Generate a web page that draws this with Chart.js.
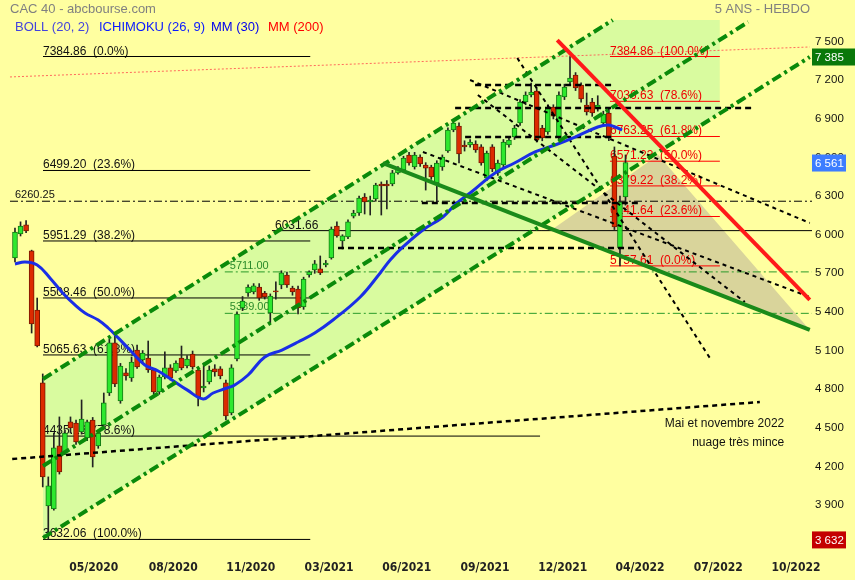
<!DOCTYPE html>
<html>
<head>
<meta charset="utf-8">
<script src="https://cdn.jsdelivr.net/npm/chart.js@4/dist/chart.umd.min.js"></script>
<style>
  html, body { margin: 0; padding: 0; background: #ffffa0; }
  #wrap { width: 855px; height: 580px; }
</style>
</head>
<body>
<div id="wrap"><canvas id="cac" width="855" height="580"></canvas></div>
<script>
// bougies hebdo (index de semaine 0 = debut fevrier 2020)
const opens  = [5819,6006,6076,5874,5415,4848,3892,3869,4359,4312,4545,4537,4467,4420,4560,4358,4522,4770,5159,4708,
                4926,4887,5104,5027,5042,4949,4778,4894,4965,4941,5042,4980,5073,4949,4809,4856,4957,4957,4848,4615,
                5034,5431,5547,5555,5594,5547,5392,5563,5609,5687,5586,5578,5438,5688,5726,5734,5765,5819,6068,5951,
                5982,6145,6169,6293,6254,6278,6394,6394,6394,6480,6503,6619,6526,6604,6542,6526,6402,6526,6651,6814,
                6845,6697,6697,6705,6682,6441,6682,6480,6542,6697,6759,6868,7031,7086,7117,6829,6798,6992,6759,7070,
                7187,7241,7163,7008,7031,6985,6868,6946,6612,5897,6293];
const highs  = [6052,6100,6110,5880,5508,4918,4118,4459,4584,4480,4584,4560,4716,4560,4580,4480,4770,5190,5236,5000,
                4960,5050,5143,5100,5174,4960,4910,5089,4990,5020,5135,5060,5096,4965,5003,4980,4990,4975,4870,4990,
                5400,5520,5610,5620,5620,5560,5540,5633,5720,5710,5600,5600,5670,5720,5800,5835,5800,6060,6100,6000,
                6115,6190,6300,6320,6300,6400,6410,6420,6500,6530,6610,6640,6640,6620,6560,6540,6575,6620,6830,6890,
                6870,6730,6740,6730,6700,6650,6700,6580,6740,6760,6850,7050,7110,7179,7140,6850,7010,7010,7110,7170,
                7384.86,7260,7180,7101,7060,7080,6960,6980,6682,6300,6620];
const lows   = [5788,5990,6015,5236,5128,4040,3632.06,3860,4140,4290,4459,4370,4450,4400,4195,4340,4510,4750,4820,4690,
                4870,4860,4960,5000,4930,4760,4760,4880,4870,4930,4950,4965,4955,4669,4778,4840,4900,4880,4560,4600,
                5020,5410,5520,5540,5490,5500,5314,5500,5580,5590,5530,5384,5420,5670,5700,5690,5750,5810,5980,5889,
                5970,6130,6150,6161,6153,6260,6153,6200,6380,6470,6490,6540,6510,6530,6347,6430,6257,6500,6640,6800,
                6557,6650,6680,6640,6540,6420,6490,6460,6520,6680,6740,6850,7010,7070,6720,6730,6780,6900,6740,7050,
                7160,7120,7030,6930,6920,6960,6850,6730,6040,5757.61,6230];
const closes = [6021,6068,6029,5306,5135,4118,4048,4343,4156,4459,4498,4389,4568,4545,4273,4459,4693,5159,4840,4980,
                4902,5011,4972,5081,4949,4778,4894,4965,4887,5003,4965,5034,4972,4739,4824,4949,4933,4902,4591,4965,
                5384,5485,5594,5602,5508,5516,5524,5555,5703,5609,5555,5431,5656,5711,5773,5703,5780,6044,5991,5991,
                6100,6169,6285,6254,6270,6386,6379,6379,6480,6511,6596,6557,6619,6550,6518,6449,6557,6604,6814,6868,
                6627,6682,6720,6658,6557,6635,6511,6557,6720,6736,6829,7031,7086,7109,6736,6752,6992,6922,7086,7148,
                7218,7140,7055,6954,6946,7008,6938,6752,6060,6254,6561];

// axe des dates (position en semaines) et axe des prix
const xTickIdx = [14.2, 28.5, 42.5, 56.6, 70.6, 84.7, 98.7, 112.6, 126.7, 140.7];
const xTickLabels = ['05/2020', '08/2020', '11/2020', '03/2021', '06/2021', '09/2021', '12/2021', '04/2022', '07/2022', '10/2022'];
const yTickVals = [3900, 4200, 4500, 4800, 5100, 5400, 5700, 6000, 6300, 6600, 6900, 7200, 7500];

// moyenne mobile (ligne bleue)
const mmIdx  = [0, 1.8, 4, 6.3, 8.6, 10.8, 12.6, 15, 16.8, 18.6, 20.7, 23.4, 25.8, 28.3, 31, 33.9, 35.7, 38.2, 39.6, 42,
                45, 48.1, 51, 54, 57.3, 62.2, 65.8, 67.6, 69.9, 73.5, 77.1, 79.6, 82, 86.5, 90, 93.7, 97.3, 100.9, 105, 106.8, 108.1, 109.4];
const mmVals = [5773, 5788, 5765, 5664, 5547, 5454, 5392, 5337, 5275, 5198, 5104, 4988, 4941, 4871, 4794, 4724, 4770, 4809, 4832, 4910,
                5050, 5104, 5166, 5236, 5337, 5516, 5703, 5804, 5905, 6037, 6138, 6246, 6324, 6480, 6557, 6643, 6697, 6759, 6837, 6853, 6837, 6814];

// retracements de Fibonacci
const fibLeftVals = [7384.86, 6499.20, 5951.29, 5508.46, 5065.63, 4435.16, 3632.06];
const fibLeftPct  = ['0.0%', '23.6%', '38.2%', '50.0%', '61.8%', '78.6%', '100.0%'];
const fibLeftFrom = 5.05;
const fibLeftTo   = [53.2, 53.2, 53.2, 53.2, 53.2, 94.6, 53.2];
const fibRightVals = [7384.86, 7036.63, 6763.25, 6571.23, 6379.22, 6141.64, 5757.61];
const fibRightPct  = ['100.0%', '78.6%', '61.8%', '50.0%', '38.2%', '23.6%', '0.0%'];
const fibRightSpan = [107.2, 127];

// niveaux horizontaux annotes
const levelVals = [6260.25, 6031.66, 5711.00, 5389.00];
const levelFrom = [-0.9, 46.3, 37.8, 37.8];

// lignes pointillees noires horizontales
const dashLevelVals = [7163, 6985, 6759, 6246, 5897];
const dashLevelFrom = [82.9, 79.3, 81.1, 73.3, 58.2];
const dashLevelTo   = [108.1, 133.3, 107.6, 112.6, 112.1];

// eventail de droites pointillees [semaine, prix]
const fanFrom = [[90.5, 7373], [83.4, 7086], [73.5, 6643], [82, 7202]];
const fanTo   = [[125.2, 5042], [131.5, 5477], [143.2, 5516], [143.2, 6091]];

// canal haussier (haut, milieu, bas) [semaine, prix]
const chanUpper  = [[5.05, 4879], [107.7, 7668]];
const chanMiddle = [[5.05, 4203], [132.1, 7653]];
const chanLower  = [[5.05, 3644], [143.2, 7381]];
const chanFillTop = [[5.05, 4879], [107.7, 7668], [127, 7668]];
const chanFillBottom = [[5.05, 3644], [127, 6943]];

// droites de tendance
const supportLine = [[66.3, 6557], [143.2, 5260]];
const resistLine  = [[97.7, 7513], [143.2, 5493]];
const redDotLine  = [[-0.9, 7226], [143.2, 7459]];
const longDashLine = [[-0.5, 4257], [134.2, 4700]];
const triTop    = [[96.9, 6045], [115.9, 6619], [143.2, 5260]];
const triBottom = [[96.9, 6045], [143.2, 5260]];

// etiquettes de prix sur l'axe
const priceBoxVals = [7384.86, 6561, 3632.06];
const priceBoxText = ['7 385', '6 561', '3 632'];

const noteIdx = 138.6;
const noteVals = [4507, 4360];
const noteText = ['Mai et novembre 2022', 'nuage très mince'];

const FONT = '"Liberation Sans", Arial, sans-serif';
Chart.defaults.font.family = FONT;

const pts = arr => arr.map(p => ({ x: p[0], y: p[1] }));
function seg(data, opt) {
    return Object.assign({ type: 'line', data: data, pointRadius: 0, borderWidth: 1, fill: false, tension: 0 }, opt);
}

const datasets = [];
// fonds
datasets.push(seg(pts(chanFillTop), { label: 'chanFill', borderColor: 'rgba(0,0,0,0)', backgroundColor: '#d9fb9f', fill: '+1', order: 100 }));
datasets.push(seg(pts(chanFillBottom), { borderColor: 'rgba(0,0,0,0)', order: 99 }));
datasets.push(seg(pts(triTop), { label: 'triFill', borderColor: 'rgba(0,0,0,0)', backgroundColor: '#d9d49b', fill: '+1', order: 95 }));
datasets.push(seg(pts(triBottom), { borderColor: 'rgba(0,0,0,0)', order: 94 }));

// Fibonacci
fibLeftVals.forEach((v, k) => datasets.push(seg([{ x: fibLeftFrom, y: v }, { x: fibLeftTo[k], y: v }], { borderColor: '#000', order: 80 })));
fibRightVals.forEach(v => datasets.push(seg([{ x: fibRightSpan[0], y: v }, { x: fibRightSpan[1], y: v }], { borderColor: '#ff0000', order: 80 })));

// niveaux
datasets.push(seg([{ x: levelFrom[0], y: levelVals[0] }, { x: 143.6, y: levelVals[0] }], { borderColor: '#000', borderDash: [8, 3, 2, 3], order: 80 }));
datasets.push(seg([{ x: levelFrom[1], y: levelVals[1] }, { x: 143.6, y: levelVals[1] }], { borderColor: '#000', order: 80 }));
datasets.push(seg([{ x: levelFrom[2], y: levelVals[2] }, { x: 143.6, y: levelVals[2] }], { borderColor: '#2a9a2a', borderDash: [8, 3, 2, 3], order: 80 }));
datasets.push(seg([{ x: levelFrom[3], y: levelVals[3] }, { x: 143.6, y: levelVals[3] }], { borderColor: '#2a9a2a', borderDash: [8, 3, 2, 3], order: 80 }));
datasets.push(seg(pts(redDotLine), { borderColor: 'rgba(255,80,80,0.85)', borderDash: [2, 2], order: 80 }));

// bougies
datasets.push({
    type: 'bar', label: 'wicks', order: 60, grouped: false, barThickness: 1,
    data: lows.map((l, i) => ({ x: i, y: [l, highs[i]] })),
    backgroundColor: '#222'
});
datasets.push({
    type: 'bar', label: 'bodies', order: 50, grouped: false, barThickness: 5, borderWidth: 1, borderSkipped: false,
    data: opens.map((o, i) => ({ x: i, y: [o, closes[i]] })),
    backgroundColor: opens.map((o, i) => closes[i] >= o ? '#2ee82e' : '#dd2a00'),
    borderColor: opens.map((o, i) => closes[i] >= o ? '#137a13' : '#7a1a00')
});

// pointilles noirs
dashLevelVals.forEach((v, k) => datasets.push(seg([{ x: dashLevelFrom[k], y: v }, { x: dashLevelTo[k], y: v }], { borderColor: '#000', borderWidth: 2.5, borderDash: [6, 4], order: 35 })));
fanFrom.forEach((p, k) => datasets.push(seg(pts([p, fanTo[k]]), { borderColor: '#000', borderWidth: 2, borderDash: [4, 4], order: 35 })));
datasets.push(seg(pts(longDashLine), { borderColor: '#000', borderWidth: 2.5, borderDash: [5, 4], order: 35 }));

// moyenne mobile
datasets.push(seg(mmIdx.map((x, k) => ({ x: x, y: mmVals[k] })), { borderColor: '#1a2ee6', borderWidth: 3, tension: 0.4, order: 30 }));

// canal et tendances
[chanUpper, chanMiddle, chanLower].forEach(c => datasets.push(seg(pts(c), { borderColor: '#0a8a0a', borderWidth: 4, borderDash: [10, 4, 3, 4], order: 20 })));
datasets.push(seg(pts(supportLine), { borderColor: '#1a8a1a', borderWidth: 4, order: 15 }));
datasets.push(seg(pts(resistLine), { borderColor: '#ff1a1a', borderWidth: 4, order: 10 }));

const fmt = v => String(v).replace(/\B(?=(\d{3})+(?!\d))/g, ' ');

function drawLevelLabels(chart) {
    const ctx = chart.ctx, xs = chart.scales.x, ys = chart.scales.y;
    ctx.save();
    ctx.textAlign = 'left';
    ctx.textBaseline = 'alphabetic';
    ctx.font = '12px ' + FONT;
    ctx.fillStyle = '#111';
    fibLeftVals.forEach((v, k) => {
        ctx.fillText(v.toFixed(2) + '  (' + fibLeftPct[k] + ')', xs.getPixelForValue(fibLeftFrom), ys.getPixelForValue(v) - 2);
    });
    ctx.fillStyle = '#ee0000';
    fibRightVals.forEach((v, k) => {
        ctx.fillText(v.toFixed(2) + '  (' + fibRightPct[k] + ')', xs.getPixelForValue(fibRightSpan[0]), ys.getPixelForValue(v) - 2);
    });
    ctx.fillStyle = '#111';
    ctx.fillText(levelVals[1].toFixed(2), xs.getPixelForValue(levelFrom[1]) + 3, ys.getPixelForValue(levelVals[1]) - 2);
    ctx.font = '11px ' + FONT;
    ctx.fillText(levelVals[0].toFixed(2), xs.getPixelForValue(levelFrom[0]) + 5, ys.getPixelForValue(levelVals[0]) - 3);
    ctx.fillStyle = '#2a8a2a';
    ctx.fillText(levelVals[2].toFixed(2), xs.getPixelForValue(levelFrom[2]) + 5, ys.getPixelForValue(levelVals[2]) - 3);
    ctx.fillText(levelVals[3].toFixed(2), xs.getPixelForValue(levelFrom[3]) + 5, ys.getPixelForValue(levelVals[3]) - 3);
    ctx.restore();
}

const decor = {
    id: 'decor',
    beforeDraw(chart) {
        const ctx = chart.ctx;
        ctx.save();
        ctx.fillStyle = '#ffffa0';
        ctx.fillRect(0, 0, chart.width, chart.height);
        ctx.restore();
    },
    afterDatasetDraw(chart, args) {
        if (chart.data.datasets[args.index].label === 'triFill') drawLevelLabels(chart);
    },
    afterDraw(chart) {
        const ctx = chart.ctx, xs = chart.scales.x, ys = chart.scales.y;
        ctx.save();
        ctx.textBaseline = 'alphabetic';
        ctx.font = '13px ' + FONT;
        ctx.fillStyle = '#808080';
        ctx.textAlign = 'left';
        ctx.fillText('CAC 40 - abcbourse.com', 10, 13);
        ctx.textAlign = 'right';
        ctx.fillText('5 ANS - HEBDO', 810, 13);
        ctx.textAlign = 'left';
        ctx.fillStyle = '#4444dd';
        ctx.fillText('BOLL (20, 2)', 15, 31);
        ctx.fillStyle = '#0a1aff';
        ctx.fillText('ICHIMOKU (26, 9)', 99, 31);
        ctx.fillStyle = '#0000ee';
        ctx.fillText('MM (30)', 211, 31);
        ctx.fillStyle = '#ff0000';
        ctx.fillText('MM (200)', 268, 31);

        // note
        ctx.font = '12px ' + FONT;
        ctx.fillStyle = '#111';
        ctx.textAlign = 'right';
        noteText.forEach((t, k) => ctx.fillText(t, xs.getPixelForValue(noteIdx), ys.getPixelForValue(noteVals[k])));

        // etiquettes colorees sur l'axe
        const boxColors = ['#0a780a', '#3d7dff', '#c40000'];
        const boxWidths = [43, 34, 34];
        ctx.font = '11.5px ' + FONT;
        ctx.textAlign = 'left';
        ctx.textBaseline = 'middle';
        priceBoxVals.forEach((v, k) => {
            const y = ys.getPixelForValue(v);
            ctx.fillStyle = boxColors[k];
            ctx.fillRect(chart.chartArea.right, y - 8, boxWidths[k], 17);
            ctx.fillStyle = '#fff';
            ctx.fillText(priceBoxText[k], chart.chartArea.right + 3, y + 1);
        });
        ctx.restore();
    }
};

new Chart(document.getElementById('cac'), {
    type: 'bar',
    data: { datasets: datasets },
    options: {
        responsive: false,
        animation: false,
        layout: { padding: 0 },
        plugins: { legend: { display: false }, tooltip: { enabled: false } },
        scales: {
            x: {
                type: 'linear', min: -2.7, max: 143.6, offset: false,
                grid: { display: false, drawTicks: false }, border: { display: false },
                afterBuildTicks: s => { s.ticks = xTickIdx.map(v => ({ value: v })); },
                afterFit: s => { s.height = 25; s.paddingLeft = 0; s.paddingRight = 0; },
                ticks: {
                    autoSkip: false, maxRotation: 0, padding: 6, color: '#222',
                    font: { family: '"Liberation Sans Narrow", "DejaVu Sans Condensed", Arial, sans-serif', size: 12, weight: 'bold' },
                    callback: (v, i) => xTickLabels[i]
                }
            },
            y: {
                type: 'linear', position: 'right', min: 3511, max: 7824,
                grid: { display: false, drawTicks: false }, border: { display: false },
                afterBuildTicks: s => { s.ticks = yTickVals.map(v => ({ value: v })); },
                afterFit: s => { s.width = 43; s.paddingTop = 0; s.paddingBottom = 0; },
                ticks: { padding: 3, color: '#111', font: { size: 11.5 }, callback: v => fmt(v) }
            }
        }
    },
    plugins: [decor]
});
</script>
</body>
</html>
